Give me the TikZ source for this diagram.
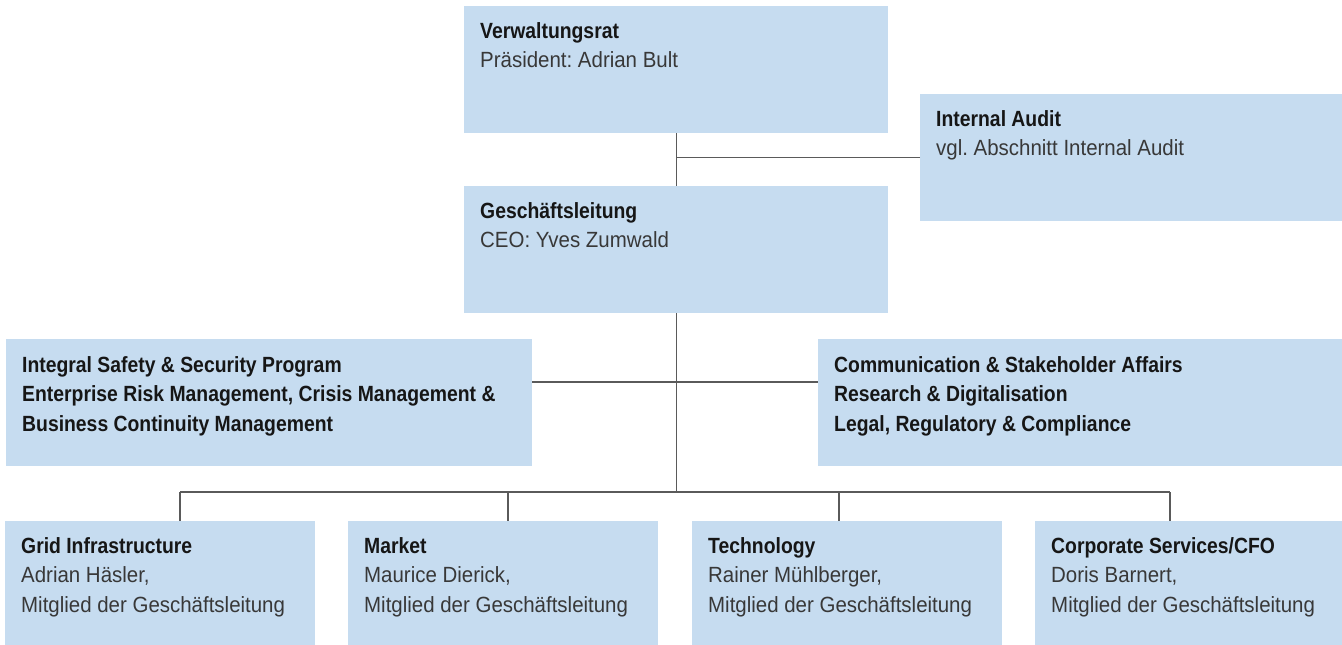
\documentclass[tikz,border=0pt]{standalone}
\usepackage{fontspec}
\setmainfont{Liberation Sans}[FakeStretch=0.93]
\newfontfamily\headfont{Liberation Sans}[FakeStretch=0.88]
\usepackage{xcolor}
\usepackage{tikz}
\usetikzlibrary{positioning}
\frenchspacing
\definecolor{boxblue}{HTML}{C6DCF0}
\definecolor{linegray}{HTML}{5A5A5A}
\definecolor{textgray}{HTML}{383838}
\definecolor{headblack}{HTML}{161616}
\newcommand{\hd}[1]{{\headfont\bfseries\color{headblack}#1}}
\tikzset{
    org box/.style={fill=boxblue, draw=none, inner sep=0pt, anchor=north west, minimum height=127pt},
    low box/.style={org box, minimum width=310pt, minimum height=124pt},
    % anchored on the baseline of the last line
    box text/.style={anchor=base west, align=left, inner sep=0pt, text=textgray, font=\fontsize{22}{29.5}\selectfont},
    link/.style={draw=linegray, line width=1.2pt},
}

\begin{document}
\begin{tikzpicture}[x=1pt,y=-1pt]
    \useasboundingbox (0,0) rectangle (1342,645);
    % upper boxes
    \node[org box, minimum width=424pt] (vr) at (464,6) {};
    \node[org box, minimum width=424pt] (gl) at (464,186) {};
    \node[org box, minimum width=422pt] (ia) at (920,94) {};
    \node[org box, minimum width=526pt] (isp) at (6,339) {};
    \node[org box, minimum width=524pt] (csa) at (818,339) {};
    \node[box text] (vr-t) at ([shift={(16,61.5)}]vr.north west) {\hd{Verwaltungsrat}\\Präsident: Adrian Bult};
    \node[box text] (gl-t) at ([shift={(16,61.5)}]gl.north west) {\hd{Geschäftsleitung}\\CEO: Yves Zumwald};
    \node[box text] (ia-t) at ([shift={(16,61.5)}]ia.north west) {\hd{Internal Audit}\\vgl. Abschnitt Internal Audit};
    \node[box text] (isp-t) at ([shift={(16,92)}]isp.north west) {\hd{Integral Safety \& Security Program}\\\hd{Enterprise Risk Management, Crisis Management \&}\\\hd{Business Continuity Management}};
    \node[box text] (csa-t) at ([shift={(16,92)}]csa.north west) {\hd{Communication \& Stakeholder Affairs}\\\hd{Research \& Digitalisation}\\\hd{Legal, Regulatory \& Compliance}};
    % divisions
    \foreach \n/\x/\t/\who in {grid/5/{Grid Infrastructure}/{Adrian Häsler,}, mkt/348/{Market}/{Maurice Dierick,}, tech/692/{Technology}/{Rainer Mühlberger,}, cfo/1035/{Corporate Services/CFO}/{Doris Barnert,}}{
        \node[low box] (\n) at (\x,521) {};
        \node[box text] (\n-t) at ([shift={(16,91)}]\n.north west) {\hd{\t}\\\who\\Mitglied der Geschäftsleitung};
    }
    % connectors
    \coordinate (hub) at (676,382);
    \foreach \n/\x in {grid/180, mkt/508, tech/839, cfo/1170}
        \coordinate (t-\n) at (\x,492);
    \draw[link] (vr) -- (gl);
    \draw[link] (ia.west) -- (ia.west -| vr.south);
    \draw[link] (gl.south) -- (gl.south |- t-grid);
    \draw[link] (isp.east |- hub) -- (csa.west |- hub);
    \draw[link] (t-grid) -- (t-cfo);
    \foreach \n in {grid, mkt, tech, cfo}
        \draw[link] (t-\n) -- (t-\n |- \n.north);
\end{tikzpicture}
\end{document}
